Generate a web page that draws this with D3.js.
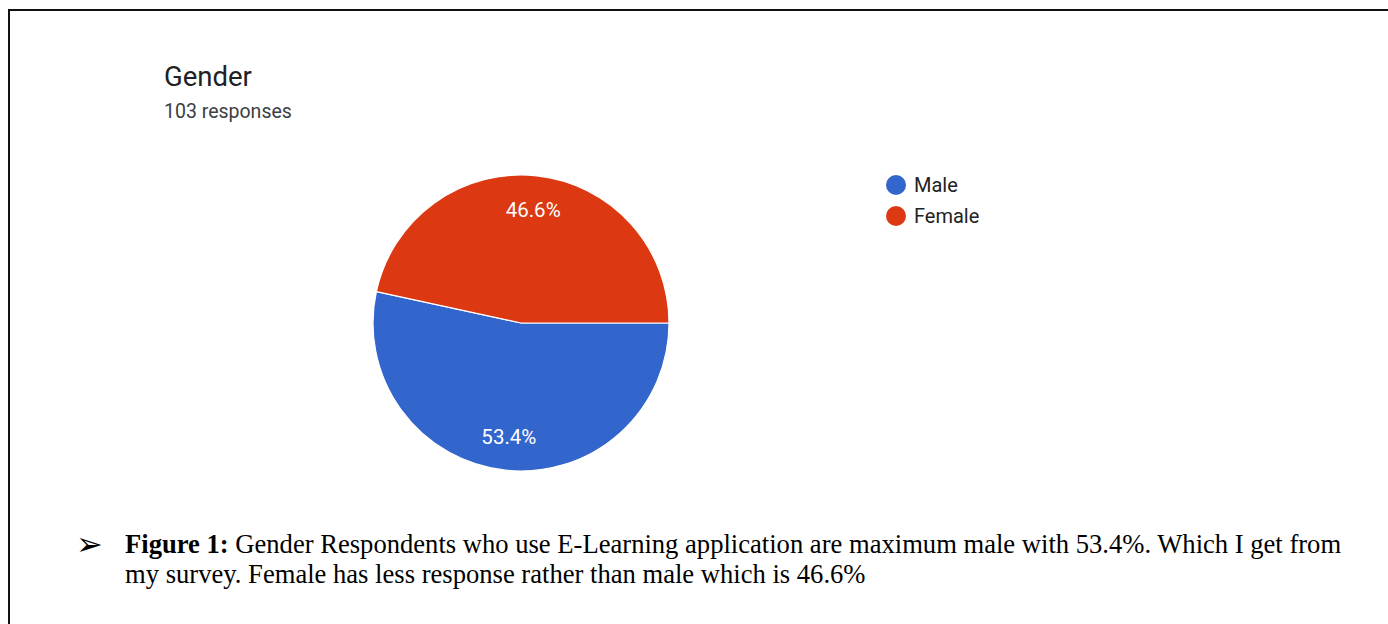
<!DOCTYPE html>
<html>
<head>
<meta charset="utf-8">
<script src="https://cdn.jsdelivr.net/npm/d3@7"></script>
<style>
  body { margin: 0; background: #fff; }
  svg { display: block; }
</style>
</head>
<body>
<svg id="chart"></svg>
<script>
// data
const categories = ["Male", "Female"];
const percents = [53.4, 46.6];
const colors = ["#3366cc", "#dc3912"];
const title = "Gender";
const subtitle = "103 responses";

const width = 1388, height = 624;

const svg = d3.select("#chart")
  .attr("width", width)
  .attr("height", height);

// frame of the page
svg.append("path")
  .attr("d", `M9,${height} V10 H${width}`)
  .attr("fill", "none")
  .attr("stroke", "#111")
  .attr("stroke-width", 2);

svg.append("text")
  .attr("x", 164).attr("y", 86)
  .attr("font-family", "Roboto, sans-serif")
  .attr("font-size", 27.5)
  .attr("fill", "#202124")
  .text(title);

svg.append("text")
  .attr("x", 164).attr("y", 118)
  .attr("font-family", "Roboto, sans-serif")
  .attr("font-size", 19.5)
  .attr("fill", "#3c4043")
  .text(subtitle);

// pie
const cx = 521, cy = 323, r = 148;
const pie = d3.pie()
  .sort(null)
  .startAngle(Math.PI / 2)
  .endAngle(Math.PI / 2 + 2 * Math.PI)
  .value((d) => d);

const arcs = pie(percents);
const arc = d3.arc().innerRadius(0).outerRadius(r);
const labelArc = d3.arc().innerRadius(r * 0.77).outerRadius(r * 0.77);

const g = svg.append("g").attr("transform", `translate(${cx},${cy})`);

g.selectAll("path")
  .data(arcs)
  .join("path")
  .attr("d", arc)
  .attr("fill", (d, i) => colors[i])
  .attr("stroke", "#fff")
  .attr("stroke-width", 1.2);

g.selectAll("text")
  .data(arcs)
  .join("text")
  .attr("transform", (d) => `translate(${labelArc.centroid(d)})`)
  .attr("text-anchor", "middle")
  .attr("dy", "0.36em")
  .attr("font-family", "Roboto, sans-serif")
  .attr("font-size", 20.5)
  .attr("fill", "#fff")
  .text((d) => d.data.toFixed(1) + "%");

// legend
const legend = svg.append("g")
  .selectAll("g")
  .data(categories)
  .join("g")
  .attr("transform", (d, i) => `translate(896,${185 + i * 31})`);

legend.append("circle")
  .attr("r", 10)
  .attr("fill", (d, i) => colors[i]);

legend.append("text")
  .attr("x", 18)
  .attr("dy", "0.36em")
  .attr("font-family", "Roboto, sans-serif")
  .attr("font-size", 20)
  .attr("fill", "#222")
  .text((d) => d);

// caption under the chart
const cap = svg.append("g")
  .attr("font-family", "'Liberation Serif', 'Times New Roman', serif")
  .attr("font-size", 26.6)
  .attr("fill", "#000");

cap.append("text")
  .attr("x", 76).attr("y", 555)
  .attr("font-family", "'DejaVu Sans', sans-serif")
  .attr("font-size", 32)
  .text("\u27A2");

const line1 = cap.append("text").attr("x", 125).attr("y", 553);
line1.append("tspan").attr("font-weight", "bold").text("Figure 1:");
line1.append("tspan").text(" Gender Respondents who use E-Learning application are maximum male with 53.4%. Which I get from");

cap.append("text")
  .attr("x", 125).attr("y", 583)
  .text("my survey. Female has less response rather than male which is 46.6%");
</script>
</body>
</html>
